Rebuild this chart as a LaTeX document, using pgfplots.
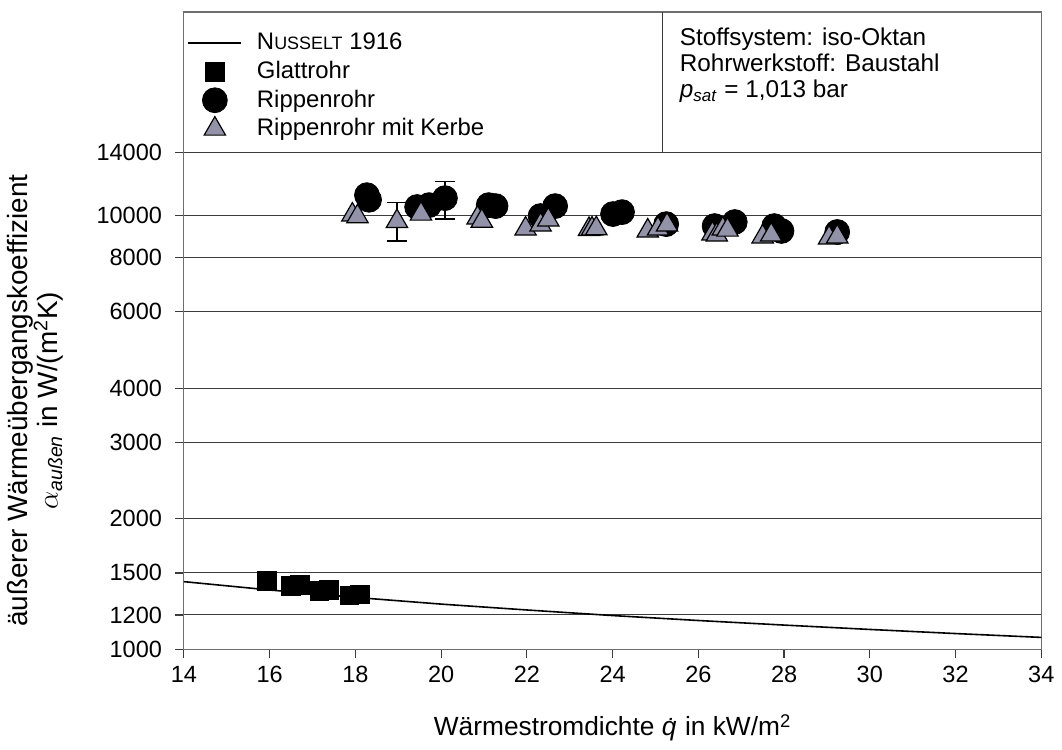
\documentclass[border=0pt]{standalone}
\usepackage{pgfplots}
\pgfplotsset{compat=1.18}
\usepackage{fontspec}
\setmainfont{Liberation Sans}
\definecolor{tri}{RGB}{146,146,168}
\definecolor{gridc}{RGB}{60,60,60}
\definecolor{framec}{RGB}{110,110,110}
\pgfplotsset{
 leglinestyle/.style={legend image code/.code={\draw[##1] (0pt,0pt) -- (26.5pt,0pt);}},
 legmarkstyle/.style={legend image code/.code={\draw[mark repeat=2,mark phase=2,##1] plot coordinates {(0pt,0pt) (13.25pt,0pt) (26.5pt,0pt)};}},
}
\begin{document}
\fontsize{11.5}{13.8}\selectfont
\begin{tikzpicture}
\begin{axis}[
 name=ax,
 scale only axis, width=430.5pt, height=320pt,
 xmin=14, xmax=34, ymode=log, ymin=1000, ymax=29500,
 xtick={14,16,...,34},
 xticklabels={14,16,18,20,22,24,26,28,30,32,34},
 ytick={1000,1200,1500,2000,3000,4000,6000,8000,10000,14000},
 yticklabels={1000,1200,1500,2000,3000,4000,6000,8000,10000,14000},
 yminorticks=false, xminorticks=false,
 tick align=outside, major tick length=4.5pt,
 xtick pos=bottom, ytick pos=left,
 ymajorgrids, major grid style={gridc, line width=0.55pt},
 axis line style={framec, line width=0.6pt},
 tick style={gridc, line width=0.6pt},
 ticklabel style={font=\fontsize{11.8}{14}\selectfont},
 yticklabel style={xshift=-2.5pt},
 /pgf/number format/assume math mode=true,
 xlabel={Wärmestromdichte \textit{\.{q}} in kW/m\textsuperscript{2}},
 xlabel style={at={(rel axis cs:0.5,-0.136)}, anchor=base, font=\fontsize{13.2}{15}\selectfont},
 ylabel={äußerer Wärmeübergangskoeffizient\\$\alpha$\textsubscript{\textit{außen}} in W/(m\textsuperscript{2}K)},
 ylabel style={at={(rel axis cs:-0.173,0.39)}, anchor=center, align=center, font=\fontsize{14}{15}\selectfont},
 legend style={at={(rel axis cs:-0.003,0.98)}, anchor=north west, draw=none, fill=none, row sep=0pt, column sep=5.5pt, font=\fontsize{12}{14}\selectfont},
 legend cell align=left,
]
% Nusselt 1916
\addplot[black, line width=0.8pt, mark=none, leglinestyle] coordinates {
(14,1432) (16,1370) (18,1317) (20,1271) (22,1232) (24,1196) (26,1165) (28,1137) (30,1111) (32,1087) (34,1065)
};
\addlegendentry{N{\fontsize{9}{10}\selectfont USSELT} 1916}
% Glattrohr
\addplot[only marks, mark=square*, mark size=4.75pt, black, legmarkstyle] coordinates {
(15.93,1440) (16.49,1403) (16.70,1410) (17.16,1366) (17.39,1370) (17.86,1331) (18.11,1338)
};
\addlegendentry{Glattrohr}
% error bars (drawn behind markers)
\addplot[forget plot, draw=none, mark=none, black, error bars/.cd, y dir=both, y explicit, error bar style={black, line width=0.6pt}, error mark options={rotate=90, mark size=5pt, black, line width=0.6pt}] table[x=x, y=y, y error plus=ep, y error minus=em] {
x y ep em
20.09 10975 1035 1153
18.97 9700 1045 956
};
% Rippenrohr
\addplot[only marks, mark=*, mark size=6.25pt, black, legmarkstyle] coordinates {
(18.27,11150) (18.32,10880) (19.44,10470) (19.72,10575) (20.09,10975) (21.11,10575) (21.27,10520) (22.32,9980) (22.66,10520) (24.01,10085) (24.22,10190) (25.25,9560) (26.38,9462) (26.85,9667) (27.77,9462) (27.94,9219) (29.24,9170)
};
\addlegendentry{Rippenrohr}
% Rippenrohr mit Kerbe
\addplot[only marks, mark=triangle*, mark size=6.2pt, draw=black, fill=tri, mark options={fill=tri, draw=black, line width=0.6pt}, legmarkstyle] coordinates {
(17.93,10040) (18.05,9950) (18.97,9700) (19.53,10090) (20.85,9880) (20.95,9720) (21.97,9320) (22.32,9520) (22.50,9780) (23.45,9300) (23.52,9320) (23.62,9340) (24.82,9225) (25.06,9320) (25.27,9520) (26.33,9080) (26.43,9030) (26.57,9320) (26.68,9270) (27.50,8940) (27.70,9030) (29.05,8890) (29.24,8940)
};
\addlegendentry{Rippenrohr mit Kerbe}
% separator of the two boxes
\draw[gridc, line width=0.6pt] (axis cs:25.17,14000) -- (axis cs:25.17,29500);
\node[anchor=north west, align=left, inner sep=0pt, font=\fontsize{12.2}{13}\selectfont] at (rel axis cs:0.578,0.975) {Stoffsystem: iso-Oktan\\Rohrwerkstoff: Baustahl\\\textit{p}\textsubscript{\textit{sat}} = 1,013 bar};
\end{axis}
\path ([xshift=-91pt,yshift=-46.5pt]ax.south west) rectangle ([xshift=9.5pt,yshift=6pt]ax.north east);
\end{tikzpicture}
\end{document}
